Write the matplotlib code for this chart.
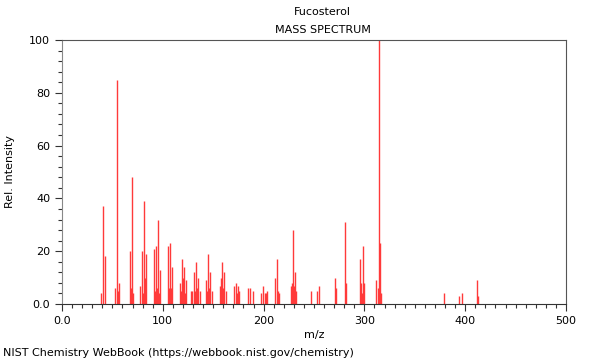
import matplotlib
matplotlib.use("Agg")
import matplotlib.pyplot as plt
from matplotlib.ticker import MultipleLocator

# peaks
mz = [39, 41, 43, 53, 55, 56, 57, 67, 68, 69, 70, 77, 79, 80, 81, 82, 83,
      91, 92, 93, 94, 95, 96, 97, 105, 106, 107, 108, 109, 117, 118, 119, 120,
      121, 122, 123, 128, 129, 131, 132, 133, 134, 135, 137, 143, 144, 145, 146,
      147, 149, 157, 158, 159, 160, 161, 163, 171, 173, 174, 175, 176, 185, 187,
      189, 197, 199, 201, 202, 203, 211, 213, 214, 215, 227, 228, 229, 230, 231,
      232, 247, 253, 255, 271, 272, 281, 282, 296, 297, 298, 299, 300, 312, 313,
      314, 315, 316, 379, 394, 397, 412, 413]
intensity = [4, 37, 18, 6, 85, 5, 8, 20, 6, 48, 4, 7, 20, 4, 39, 10, 19,
             21, 5, 22, 6, 32, 4, 13, 22, 6, 23, 6, 14, 8, 5, 17, 10,
             14, 4, 9, 5, 5, 12, 5, 16, 6, 10, 5, 9, 5, 19, 6,
             12, 5, 7, 10, 16, 6, 12, 5, 7, 8, 4, 7, 5, 6, 6,
             5, 4, 7, 4, 4, 5, 10, 17, 5, 4, 7, 8, 28, 7, 12,
             5, 5, 5, 7, 10, 6, 31, 8, 17, 8, 4, 22, 8, 9, 6,
             100, 23, 4, 4, 3, 4, 9, 3]

compound = "Fucosterol"
fs = 8

fig = plt.figure(figsize=(6, 3.6), dpi=100)
ax = fig.add_axes([62/600, 1 - 304/360, 504/600, 264/360])

ax.vlines(mz, 0, intensity, color="#ff3a3a", lw=1.0)

ax.set_xlim(0, 500)
ax.set_ylim(0, 100)
ax.xaxis.set_major_locator(MultipleLocator(100))
ax.xaxis.set_minor_locator(MultipleLocator(10))
ax.yaxis.set_major_locator(MultipleLocator(20))
ax.yaxis.set_minor_locator(MultipleLocator(4))
ax.xaxis.set_major_formatter(lambda v, p: "0.0" if v == 0 else "%d" % v)
ax.yaxis.set_major_formatter(lambda v, p: "0.0" if v == 0 else "%d" % v)
ax.tick_params(which="major", length=5, width=0.8, labelsize=fs, color="#333333")
ax.tick_params(which="minor", length=3, width=0.8, color="#333333")

for side in ["top", "right"]:
    ax.spines[side].set_color("#555555")
ax.spines["left"].set_color("#888888")
ax.spines["bottom"].set_color("#333333")

ax.set_xlabel("m/z", fontsize=fs, labelpad=3)
ax.set_ylabel("Rel. Intensity", fontsize=fs, labelpad=10)

fig.text(0.538, 1 - 12/360, compound, ha="center", va="center", fontsize=fs)
fig.text(0.538, 1 - 30/360, "MASS SPECTRUM", ha="center", va="center", fontsize=fs)
fig.text(3/600, 1 - 353/360, "NIST Chemistry WebBook (https://webbook.nist.gov/chemistry)",
         ha="left", va="center", fontsize=fs)

fig.savefig("out.png", dpi=100)
